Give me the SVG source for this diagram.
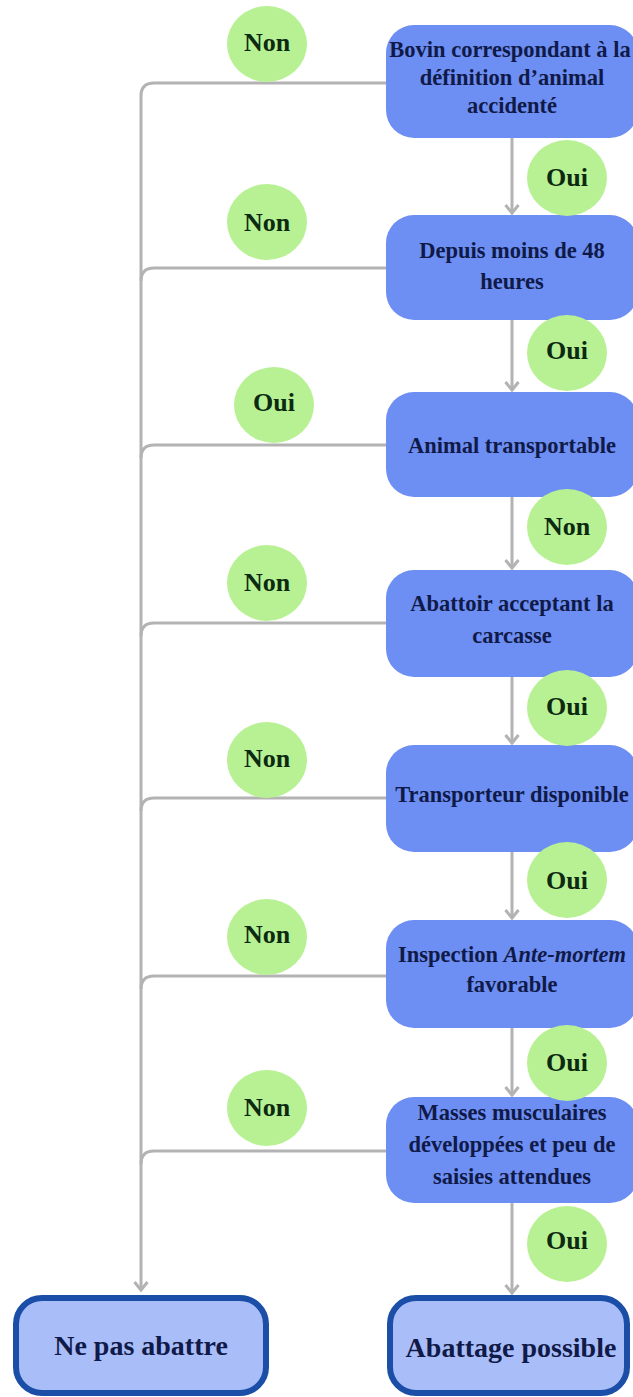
<svg xmlns="http://www.w3.org/2000/svg" width="633" height="1397" viewBox="0 0 633 1397">
<defs>
<style>
.box{fill:#6d8ef3;}
.fin{fill:#a9bdf9;stroke:#1b4ea6;stroke-width:6;}
.lbl{fill:#b8f194;}
.t{font-family:"Liberation Serif","Times New Roman",serif;font-weight:bold;font-size:22.5px;fill:#101a48;text-anchor:middle;}
.tf{font-family:"Liberation Serif","Times New Roman",serif;font-weight:bold;font-size:28px;fill:#101a48;text-anchor:middle;}
.tl{font-family:"Liberation Serif","Times New Roman",serif;font-weight:bold;font-size:26px;fill:#0c2a10;text-anchor:middle;}
.c{fill:none;stroke:#b3b3b3;stroke-width:3;}
</style>
<marker id="arr" markerWidth="14" markerHeight="16" viewBox="0 0 14 16" refX="11" refY="8" orient="auto" markerUnits="userSpaceOnUse">
<polyline points="3,1.5 11,8 3,14.5" fill="none" stroke="#b3b3b3" stroke-width="3"/>
</marker>
</defs>
<rect width="633" height="1397" fill="#ffffff"/>
<g id="connectors">
<path class="c" d="M386,83 H154 Q141,83 141,96 V1290" marker-end="url(#arr)"/>
<path class="c" d="M386,268 H154 Q141,268 141,281"/>
<path class="c" d="M386,445 H154 Q141,445 141,458"/>
<path class="c" d="M386,623 H154 Q141,623 141,636"/>
<path class="c" d="M386,798 H154 Q141,798 141,811"/>
<path class="c" d="M386,976 H154 Q141,976 141,989"/>
<path class="c" d="M386,1151 H154 Q141,1151 141,1164"/>
<path class="c" d="M512,138 V213" marker-end="url(#arr)"/>
<path class="c" d="M512,320 V390" marker-end="url(#arr)"/>
<path class="c" d="M512,497 V568" marker-end="url(#arr)"/>
<path class="c" d="M512,677 V743" marker-end="url(#arr)"/>
<path class="c" d="M512,852 V918" marker-end="url(#arr)"/>
<path class="c" d="M512,1028 V1095" marker-end="url(#arr)"/>
<path class="c" d="M512,1203 V1293" marker-end="url(#arr)"/>
</g>
<g id="n1"><rect class="box" x="386" y="25" width="252" height="113" rx="28"/>
<text class="t" x="510" y="57">Bovin correspondant à la</text>
<text class="t" x="512" y="85">définition d’animal</text>
<text class="t" x="512" y="113">accidenté</text></g>
<g id="n2"><rect class="box" x="386" y="215" width="252" height="105" rx="28"/>
<text class="t" x="512" y="258">Depuis moins de 48</text>
<text class="t" x="512" y="289">heures</text></g>
<g id="n3"><rect class="box" x="386" y="392" width="252" height="105" rx="28"/>
<text class="t" x="512" y="453">Animal transportable</text></g>
<g id="n4"><rect class="box" x="386" y="570" width="252" height="107" rx="28"/>
<text class="t" x="512" y="611">Abattoir acceptant la</text>
<text class="t" x="512" y="643">carcasse</text></g>
<g id="n5"><rect class="box" x="386" y="745" width="252" height="107" rx="28"/>
<text class="t" x="512" y="802">Transporteur disponible</text></g>
<g id="n6"><rect class="box" x="386" y="920" width="252" height="108" rx="28"/>
<text class="t" x="512" y="962">Inspection <tspan font-style="italic">Ante-mortem</tspan></text>
<text class="t" x="512" y="992">favorable</text></g>
<g id="n7"><rect class="box" x="386" y="1097" width="252" height="106" rx="28"/>
<text class="t" x="512" y="1120">Masses musculaires</text>
<text class="t" x="512" y="1152">développées et peu de</text>
<text class="t" x="512" y="1184">saisies attendues</text></g>
<g id="end-no"><rect class="fin" x="16" y="1298" width="250" height="95" rx="26"/>
<text class="tf" x="141" y="1355">Ne pas abattre</text></g>
<g id="end-yes"><rect class="fin" x="390" y="1298" width="237" height="95" rx="26"/>
<text class="tf" x="511" y="1357">Abattage possible</text></g>
<g id="labels">
<g id="l1"><ellipse class="lbl" cx="267" cy="44" rx="40" ry="38"/><text class="tl" x="267" y="51">Non</text></g>
<g id="l2"><ellipse class="lbl" cx="267" cy="222" rx="40" ry="38"/><text class="tl" x="267" y="231">Non</text></g>
<g id="l3"><ellipse class="lbl" cx="274" cy="405" rx="40" ry="38"/><text class="tl" x="274" y="411">Oui</text></g>
<g id="l4"><ellipse class="lbl" cx="267" cy="583" rx="40" ry="38"/><text class="tl" x="267" y="591">Non</text></g>
<g id="l5"><ellipse class="lbl" cx="267" cy="760" rx="40" ry="38"/><text class="tl" x="267" y="767">Non</text></g>
<g id="l6"><ellipse class="lbl" cx="267" cy="937" rx="40" ry="38"/><text class="tl" x="267" y="943">Non</text></g>
<g id="l7"><ellipse class="lbl" cx="267" cy="1108" rx="40" ry="38"/><text class="tl" x="267" y="1116">Non</text></g>
<g id="r1"><ellipse class="lbl" cx="567" cy="178" rx="40" ry="38"/><text class="tl" x="567" y="186">Oui</text></g>
<g id="r2"><ellipse class="lbl" cx="567" cy="353" rx="40" ry="38"/><text class="tl" x="567" y="359">Oui</text></g>
<g id="r3"><ellipse class="lbl" cx="567" cy="527" rx="40" ry="38"/><text class="tl" x="567" y="535">Non</text></g>
<g id="r4"><ellipse class="lbl" cx="567" cy="708" rx="40" ry="38"/><text class="tl" x="567" y="715">Oui</text></g>
<g id="r5"><ellipse class="lbl" cx="567" cy="880" rx="40" ry="38"/><text class="tl" x="567" y="889">Oui</text></g>
<g id="r6"><ellipse class="lbl" cx="567" cy="1063" rx="40" ry="38"/><text class="tl" x="567" y="1071">Oui</text></g>
<g id="r7"><ellipse class="lbl" cx="567" cy="1244" rx="40" ry="38"/><text class="tl" x="567" y="1249">Oui</text></g>
</g>
</svg>
